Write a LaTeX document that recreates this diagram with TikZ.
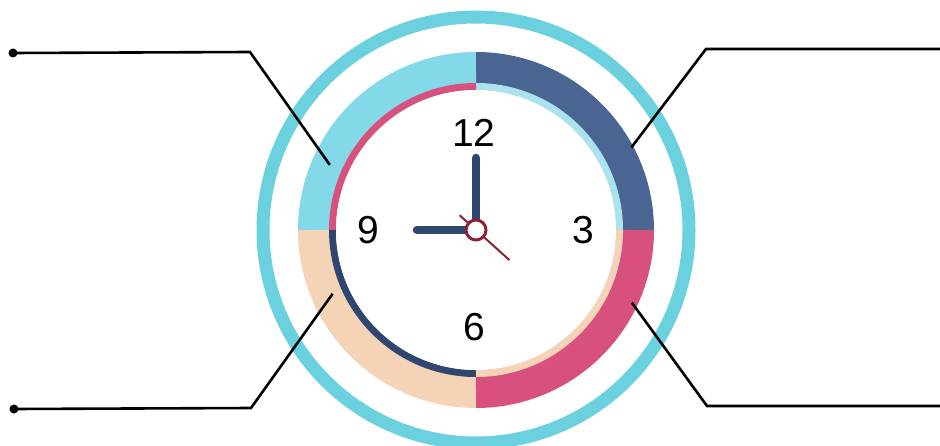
\documentclass[tikz,border=0pt]{standalone}
\usepackage{fontspec}
\setmainfont{Liberation Sans}
\definecolor{ringcyan}{HTML}{6CD1DF}
\definecolor{qcyan}{HTML}{84D9E9}
\definecolor{qblue}{HTML}{4B6592}
\definecolor{qpink}{HTML}{D7507E}
\definecolor{qpeach}{HTML}{F5D3B6}
\definecolor{stripecyan}{HTML}{A9E3EE}
\definecolor{handblue}{HTML}{2F4770}
\definecolor{handred}{HTML}{8C2233}
\begin{document}
\begin{tikzpicture}[x=1pt, y=1pt,
		digit/.style={font=\fontsize{39}{42}\selectfont, inner sep=0pt},
		leader/.style={draw=black, line width=2.6pt, line join=miter},
		hand/.style={line width=8.5pt, line cap=round, draw=handblue}]
		\useasboundingbox (0,0) rectangle (940,445);
		\coordinate (c) at (476,215);

		% --- outer cyan ring ---
		\draw[ringcyan, line width=13pt] (c) circle (213);

		% --- coloured quarter bands ---
		\foreach \a/\col in {0/qblue, 90/qcyan, 180/qpeach, 270/qpink} {
			\draw[\col, line width=38pt] ([shift={(\a:159)}]c) arc (\a:\a+90:159);
		}
		% --- thin inner stripes of each quarter ---
		\foreach \a/\col in {0/stripecyan, 90/qpink, 180/handblue, 270/qpeach} {
			\draw[\col, line width=7pt] ([shift={(\a:143.5)}]c) arc (\a:\a+90:143.5);
		}

		% --- clock face ---
		\fill[white] (c) circle (140);
		\node[digit] (n12) at (474,312) {12};
		\node[digit] (n3)  at (583,215) {3};
		\node[digit] (n6)  at (474,118) {6};
		\node[digit] (n9)  at (368,215) {9};

		% --- hands ---
		\draw[hand] (c) -- ++(0,72);
		\draw[hand] (c) -- ++(-59,0);
		\draw[handred, line width=2pt] ([shift={(138:22)}]c) -- ([shift={(-42:45)}]c);
		\draw[handred, line width=3pt, fill=white] (c) circle (10);

		% --- leader lines ---
		\coordinate (tl) at ([shift={(156:160)}]c);
		\coordinate (tr) at ([shift={(28:176)}]c);
		\coordinate (bl) at ([shift={(204:157)}]c);
		\coordinate (br) at ([shift={(-25:172)}]c);
		\coordinate (tlend) at (13,392);
		\coordinate (blend) at (14,36);
		\coordinate (trend) at (940,396);
		\coordinate (brend) at (940,39);

		\draw[leader] (tl) -- (250,393) -- (tlend);
		\draw[leader] (bl) -- (251,37) -- (blend);
		\draw[leader] (tr) -- (706,396) -- (trend);
		\draw[leader] (br) -- (707,39) -- (brend);
		\foreach \p in {tlend, blend} {
			\fill (\p) circle (4.5);
		}
	\end{tikzpicture}
\end{document}
